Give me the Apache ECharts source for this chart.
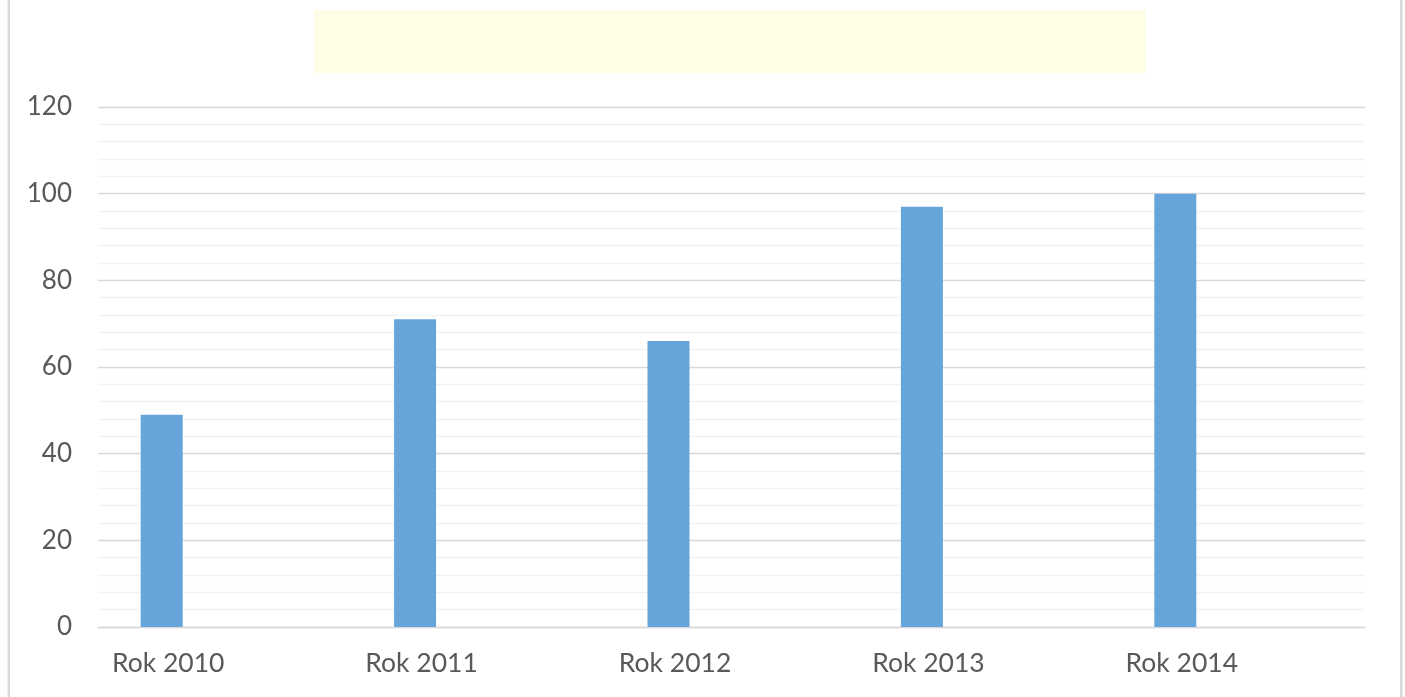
<!DOCTYPE html>
<html>
<head>
<meta charset="utf-8">
<script src="https://cdn.jsdelivr.net/npm/echarts@6/dist/echarts.min.js"></script>
<style>
html,body{margin:0;padding:0;background:#fff;}
#c{width:1405px;height:697px;}
</style>
</head>
<body>
<div id="c"></div>
<script>
var categories = ['Rok 2010', 'Rok 2011', 'Rok 2012', 'Rok 2013', 'Rok 2014'];
var values = [49, 71, 66, 97, 100];
var emptyValues = [null, null, null, null, null];
var yTicks = {min: 0, max: 120, interval: 20};

var chart = echarts.init(document.getElementById('c'));
var emptySeries = function () {
  return {type: 'bar', data: emptyValues, barWidth: 42, barGap: '0%', silent: true};
};
chart.setOption({
  animation: false,
  backgroundColor: '#ffffff',
  graphic: [
    {type: 'rect', left: 6.3, top: -10, shape: {x: 0, y: 0, width: 1392.5, height: 720},
     style: {fill: 'none', stroke: '#d9d9d9', lineWidth: 2.5}, z: 0},
    {type: 'rect', shape: {x: 314, y: 10, width: 832, height: 63},
     style: {fill: '#fffde6'}, z: 1}
  ],
  grid: {left: 98, right: 40, top: 107, bottom: 70, containLabel: false},
  xAxis: {
    type: 'category',
    data: categories,
    axisLine: {show: true, lineStyle: {color: '#d9d9d9', width: 1.3}},
    axisTick: {show: false},
    splitLine: {show: false},
    axisLabel: {
      color: '#595959', fontFamily: 'Lato', fontSize: 26.5, margin: 23,
      align: 'center', padding: [0, 113, 0, 0]
    }
  },
  yAxis: {
    type: 'value',
    min: yTicks.min, max: yTicks.max, interval: yTicks.interval,
    axisLine: {show: false},
    axisTick: {show: false},
    axisLabel: {color: '#595959', fontFamily: 'Lato', fontSize: 26, margin: 26},
    splitLine: {show: true, lineStyle: {color: '#d9d9d9', width: 1.3}},
    minorTick: {show: false, splitNumber: 5},
    minorSplitLine: {show: true, lineStyle: {color: '#f2f2f2', width: 1.3}}
  },
  series: [
    {type: 'bar', data: values, barWidth: 42, barGap: '0%',
     itemStyle: {color: '#66a5da'}},
    emptySeries(), emptySeries(), emptySeries()
  ]
});
</script>
</body>
</html>
